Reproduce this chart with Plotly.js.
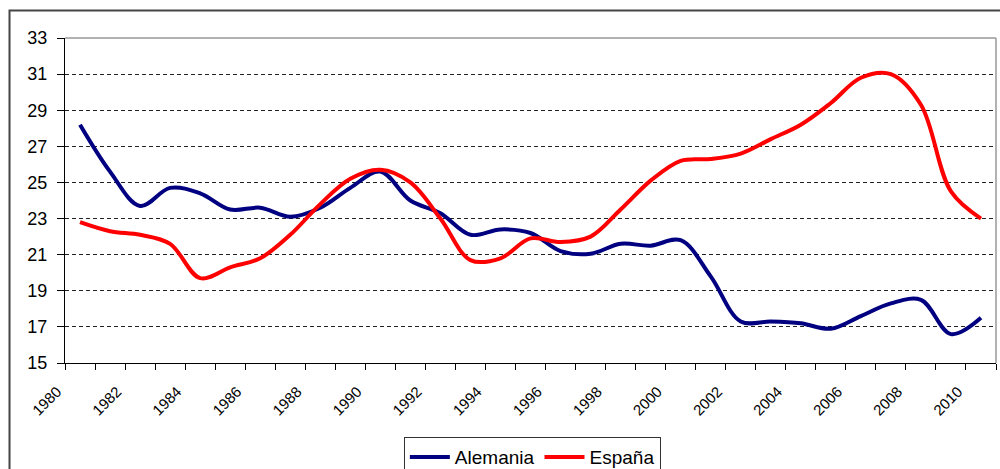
<!DOCTYPE html>
<html>
<head>
<meta charset="utf-8">
<script src="https://cdn.plot.ly/plotly-3.0.1.min.js"></script>
<style>html,body{margin:0;padding:0;background:#fff;}#chart{width:1000px;height:469px;}</style>
</head>
<body>
<div id="chart"></div>
<script>
const years = [1980,1981,1982,1983,1984,1985,1986,1987,1988,1989,1990,1991,1992,1993,1994,1995,1996,1997,1998,1999,2000,2001,2002,2003,2004,2005,2006,2007,2008,2009,2010];
const alemania = [28.2,25.6,23.7,24.7,24.4,23.5,23.6,23.1,23.6,24.7,25.6,24.0,23.3,22.1,22.4,22.2,21.2,21.05,21.6,21.5,21.8,19.8,17.3,17.3,17.2,16.9,17.6,18.3,18.5,16.6,17.5];
const espana = [22.8,22.3,22.1,21.6,19.7,20.3,20.8,22.1,23.8,25.2,25.7,25.0,23.0,20.7,20.8,21.9,21.7,22.0,23.5,25.1,26.2,26.3,26.6,27.4,28.2,29.4,30.8,31.0,29.3,24.5,23.0];
const xTickLabels = ["1980","1982","1984","1986","1988","1990","1992","1994","1996","1998","2000","2002","2004","2006","2008","2010"];
const yTicks = [15,17,19,21,23,25,27,29,31,33];
const seriesNames = ["Alemania","España"];

const font = "Arial, 'Liberation Sans', sans-serif";

const traces = [
  {x: years, y: alemania, name: seriesNames[0], type: 'scatter', mode: 'lines',
   line: {color: '#000080', width: 4, shape: 'spline', smoothing: 1}},
  {x: years, y: espana, name: seriesNames[1], type: 'scatter', mode: 'lines',
   line: {color: '#FF0000', width: 4, shape: 'spline', smoothing: 1}}
];

const layout = {
  width: 1000, height: 469,
  margin: {l: 65, r: 4, t: 38, b: 106, autoexpand: false},
  paper_bgcolor: '#fff', plot_bgcolor: '#fff',
  font: {family: font, color: '#000'},
  showlegend: true,
  legend: {orientation: 'h', x: 0.502, xanchor: 'center', y: -0.228, yanchor: 'top',
           bordercolor: '#333', borderwidth: 1, font: {size: 19, family: font, color: '#000'},
           itemwidth: 40, tracegroupgap: 0},
  xaxis: {
    range: [1979.5, 2010.5], tickmode: 'array',
    tickvals: xTickLabels.map(Number), ticktext: xTickLabels,
    ticks: '', tickangle: -45, ticklabelshift: -23, ticklabelstandoff: 13,
    tickfont: {size: 15, family: font, color: '#000'},
    showline: true, linecolor: '#000', linewidth: 1,
    showgrid: false, zeroline: false, fixedrange: true,
    minor: {ticks: 'outside', tick0: 1979.5, dtick: 1, ticklen: 6, tickcolor: '#000', tickwidth: 1, showgrid: false}
  },
  yaxis: {
    range: [15, 33], tickmode: 'array', tickvals: yTicks,
    ticks: 'outside', ticklen: 7, tickcolor: '#000', tickwidth: 1, ticklabelstandoff: 6,
    tickfont: {size: 18, family: font, color: '#000'},
    showline: true, linecolor: '#000', linewidth: 1,
    showgrid: true, gridcolor: '#222', gridwidth: 1, griddash: '4px,3px',
    zeroline: false, fixedrange: true
  },
  shapes: [
    {type: 'line', xref: 'paper', yref: 'paper', x0: 0, x1: 1, y0: 1, y1: 1, line: {color: '#999', width: 1.5}, layer: 'above'},
    {type: 'line', xref: 'paper', yref: 'paper', x0: 1, x1: 1, y0: 0, y1: 1, line: {color: '#999', width: 1.5}, layer: 'above'},
    {type: 'rect', xref: 'paper', yref: 'paper', x0: -0.0596, x1: 1.02, y0: -0.4, y1: 1.0846, line: {color: '#444', width: 2}, fillcolor: 'rgba(0,0,0,0)', layer: 'above'}
  ]
};

Plotly.newPlot('chart', traces, layout, {staticPlot: true, displayModeBar: false});
</script>
</body>
</html>
